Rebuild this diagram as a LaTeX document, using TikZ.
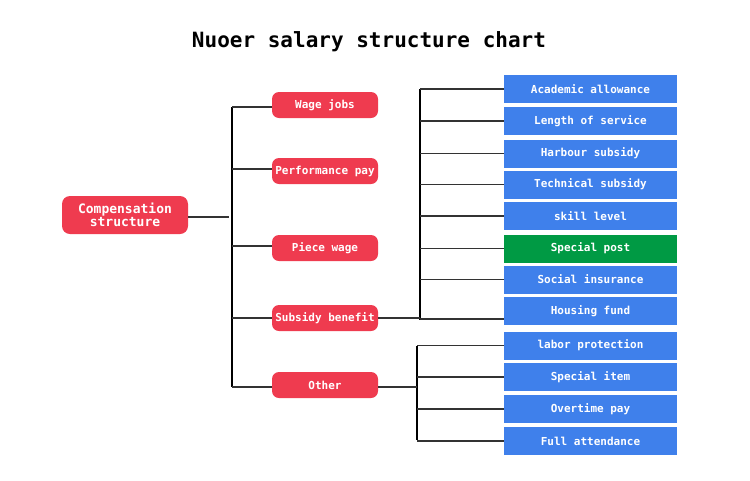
\documentclass[tikz,border=0pt]{standalone}
\usepackage{fontspec}
\newfontfamily\lab{DejaVu Sans Mono}
\usetikzlibrary{calc}
\definecolor{redc}{HTML}{EF3B4F}
\definecolor{bluec}{HTML}{3F80EB}
\definecolor{greenc}{HTML}{009A44}
\definecolor{linec}{HTML}{333333}
\begin{document}
\begin{tikzpicture}[x=1pt,y=-1pt,
  redbox/.style={rectangle, rounded corners=7pt, fill=redc, text=white,
    font=\lab\bfseries\fontsize{11}{12}\selectfont, minimum width=106pt, minimum height=26pt, inner sep=0pt},
  bluebox/.style={rectangle, fill=bluec, text=white,
    font=\lab\bfseries\fontsize{11}{12}\selectfont, minimum width=173pt, minimum height=28pt, inner sep=0pt},
  greenbox/.style={bluebox, fill=greenc},
  ln/.style={draw=linec, line width=1.1pt},
  bus/.style={draw=black, line width=1.8pt},
  bus2/.style={draw=black, line width=1.1pt}]
\useasboundingbox (0,0) rectangle (750,480);
\node[font=\lab\bfseries\fontsize{21}{24}\selectfont] (title) at (369,42) {Nuoer salary structure chart};

\node[redbox, rounded corners=8pt, minimum width=126pt, minimum height=38pt, align=center,
  font=\lab\bfseries\fontsize{13}{13.5}\selectfont] (comp) at (125,215) {Compensation\\structure};
\node[redbox] (wage) at (325,105) {Wage jobs};
\node[redbox] (perf) at (325,171) {Performance pay};
\node[redbox] (piece) at (325,248) {Piece wage};
\node[redbox] (sub) at (325,318) {Subsidy benefit};
\node[redbox] (oth) at (325,385) {Other};

\node[bluebox] (b1) at (590.5,89) {Academic allowance};
\node[bluebox] (b2) at (590.5,121) {Length of service};
\node[bluebox] (b3) at (590.5,153.5) {Harbour subsidy};
\node[bluebox] (b4) at (590.5,184.5) {Technical subsidy};
\node[bluebox] (b5) at (590.5,216) {skill level};
\node[greenbox] (b6) at (590.5,248.5) {Special post};
\node[bluebox] (b7) at (590.5,279.5) {Social insurance};
\node[bluebox] (b8) at (590.5,311) {Housing fund};
\node[bluebox] (b9) at (590.5,345.5) {labor protection};
\node[bluebox] (b10) at (590.5,377) {Special item};
\node[bluebox] (b11) at (590.5,409) {Overtime pay};
\node[bluebox] (b12) at (590.5,441) {Full attendance};

% left bus
\coordinate (lt) at (232,107);
\coordinate (lb) at (232,387);
\coordinate (lj) at (229,217);
\draw[bus2] (lt) -- (lb);
\draw[ln] (comp.east |- lj) -- (lj);
\foreach \n/\yy in {wage/107, perf/169, piece/246, sub/318, oth/387}{
  \draw[ln] (\n.west |- 0,\yy) -- (lt |- 0,\yy);
}

% right bus 1
\coordinate (r1t) at (420,89);
\coordinate (r1b) at (420,320);
\draw[bus] (r1t) -- (r1b);
\draw[ln] (sub.east) -- (sub.east -| r1t);
\foreach \n in {b1,b2,b3,b4,b5,b6,b7}{
  \draw[ln] (\n.west) -- (\n.west -| r1t);
}
\draw[ln] ($(b8.west)+(0,8)$) -- ($(b8.west -| r1t)+(0,8)$);

% right bus 2
\coordinate (r2t) at (417,346);
\coordinate (r2b) at (417,440);
\draw[bus2] (r2t) -- (r2b);
\draw[ln] (oth.east |- 0,387) -- (r2t |- 0,387);
\foreach \n in {b9,b10,b11,b12}{
  \draw[ln] (\n.west) -- (\n.west -| r2t);
}
\end{tikzpicture}
\end{document}
